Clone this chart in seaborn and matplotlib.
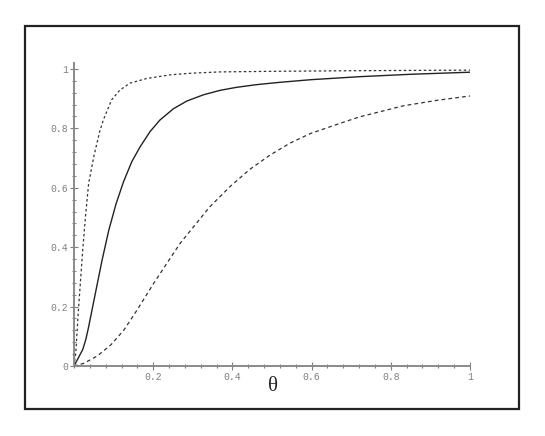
import numpy as np
import pandas as pd
import matplotlib
matplotlib.use("Agg")
import matplotlib.pyplot as plt
from matplotlib.patches import Rectangle
from matplotlib.ticker import MultipleLocator
import seaborn as sns

# values
theta_fast = [0, 0.005, 0.010, 0.016, 0.022, 0.029, 0.037, 0.045, 0.05, 0.057, 0.065, 0.074,
              0.095, 0.116, 0.141, 0.184, 0.242, 0.3, 0.369, 0.5, 0.7, 1.0]
p_fast = [0, 0.054, 0.166, 0.278, 0.39, 0.503, 0.615, 0.67, 0.705, 0.745, 0.79, 0.828,
          0.896, 0.929, 0.952, 0.968, 0.98, 0.986, 0.99, 0.992, 0.994, 0.996]

theta_mid = [0, 0.022, 0.03, 0.037, 0.054, 0.071, 0.088, 0.106, 0.125, 0.146, 0.167, 0.192,
             0.217, 0.251, 0.285, 0.327, 0.369, 0.41, 0.46, 0.52, 0.6, 0.722, 0.85, 1.0]
p_mid = [0, 0.055, 0.09, 0.132, 0.245, 0.357, 0.458, 0.545, 0.62, 0.688, 0.738, 0.789,
         0.828, 0.866, 0.892, 0.913, 0.928, 0.938, 0.947, 0.955, 0.964, 0.974, 0.982, 0.989]

theta_slow = [0, 0.025, 0.059, 0.093, 0.126, 0.16, 0.202, 0.268, 0.343, 0.394, 0.444, 0.495,
              0.545, 0.596, 0.672, 0.722, 0.832, 0.92, 1.0]
p_slow = [0, 0.009, 0.034, 0.071, 0.121, 0.19, 0.28, 0.413, 0.536, 0.604, 0.662, 0.71,
          0.75, 0.782, 0.817, 0.839, 0.876, 0.895, 0.909]

x_ticks = [0.2, 0.4, 0.6, 0.8, 1]
x_labels = ["0.2", "0.4", "0.6", "0.8", "1"]
y_ticks = [0, 0.2, 0.4, 0.6, 0.8, 1]
y_labels = ["0", "0.2", "0.4", "0.6", "0.8", "1"]

sns.set_style("white")
plt.rcParams["font.family"] = ["Liberation Mono", "DejaVu Sans"]

fig = plt.figure(figsize=(5.45, 4.36), dpi=100)
# frame round the whole plot
fig.patches.append(Rectangle((25 / 545, 1 - 409 / 436), 494 / 545, 383 / 436,
                             transform=fig.transFigure, fill=False,
                             edgecolor="#222222", linewidth=1.6))

ax = fig.add_axes([74 / 545, 70 / 436, 396 / 545, 303 / 436])

df_fast = pd.DataFrame({"theta": theta_fast, "p": p_fast})
df_mid = pd.DataFrame({"theta": theta_mid, "p": p_mid})
df_slow = pd.DataFrame({"theta": theta_slow, "p": p_slow})

sns.lineplot(data=df_fast, x="theta", y="p", ax=ax, color="#333333",
             linewidth=0.9, linestyle=(0, (2, 2)))
sns.lineplot(data=df_mid, x="theta", y="p", ax=ax, color="#222222",
             linewidth=1.0)
sns.lineplot(data=df_slow, x="theta", y="p", ax=ax, color="#333333",
             linewidth=0.9, linestyle=(0, (3, 2.5)))

ax.set_xlim(0, 1.0)
ax.set_ylim(0, 1.02)
for s in ["top", "right"]:
    ax.spines[s].set_visible(False)
for s in ["left", "bottom"]:
    ax.spines[s].set_color("#8a8a8a")
    ax.spines[s].set_linewidth(1.4)

ax.set_xticks(x_ticks)
ax.set_xticklabels(x_labels)
ax.set_yticks(y_ticks)
ax.set_yticklabels(y_labels)
ax.xaxis.set_minor_locator(MultipleLocator(0.04))
ax.yaxis.set_minor_locator(MultipleLocator(0.04))
ax.tick_params(which="major", direction="inout", length=6, width=0.8,
               color="#808080", labelsize=7, labelcolor="#808080", pad=1)
ax.tick_params(which="minor", direction="inout", length=3.5, width=0.8,
               color="#808080")
ax.tick_params(axis="x", which="both", bottom=True)
ax.tick_params(axis="y", which="both", left=True)

ax.set_ylabel("")
ax.set_xlabel("")
fig.text(272.7 / 545, 1 - 386.7 / 436, "θ", fontsize=15,
         family=["Liberation Serif", "DejaVu Serif"], ha="center", va="center")

fig.savefig("out.png", dpi=100)
